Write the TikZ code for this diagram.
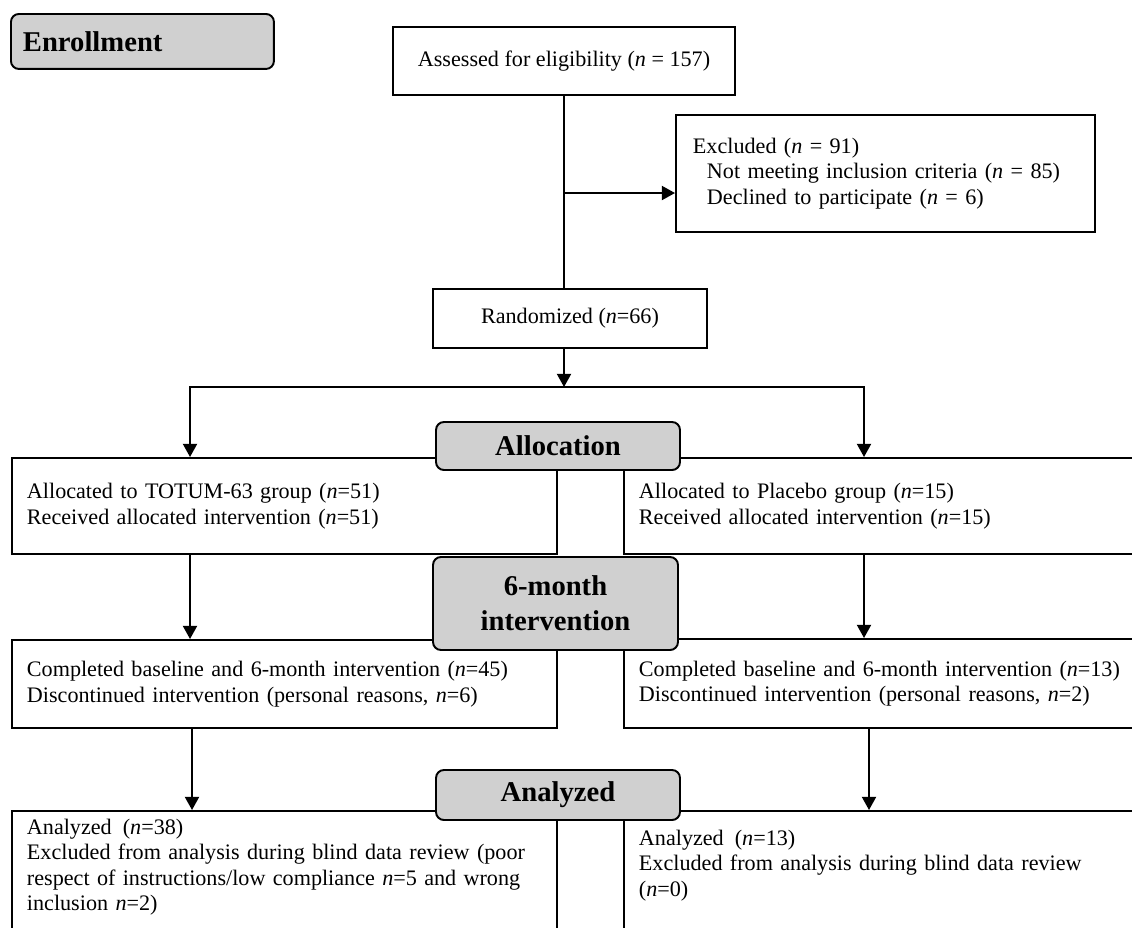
\documentclass[tikz,border=0pt]{standalone}
\usepackage{fontspec}
\setmainfont{Liberation Serif}
\usepackage{xcolor}
\usetikzlibrary{arrows.meta,positioning}
\definecolor{stagegray}{HTML}{D0D0D0}
\newcommand{\nval}{\textit{n}}

\begin{document}
\begin{tikzpicture}[x=0.02cm, y=-0.02cm,
  >={Triangle[length=7.5pt,width=8pt]},
  box/.style={draw, line width=1.1pt, fill=white, inner sep=0pt,
    font=\fontsize{12.6}{14.5}\selectfont},
  leftbox/.style={box, anchor=north west, align=left, inner xsep=0.3cm,
    minimum width=10.9cm, text width=10.3cm},
  stage/.style={draw, line width=1.1pt, fill=stagegray, rounded corners=4.5pt,
    align=center, font=\bfseries\fontsize{16.3}{19.8}\selectfont},
  link/.style={line width=1.1pt},
  flow/.style={line width=1.1pt, ->}]
  \useasboundingbox (0,0) rectangle (1132,927);

  % Enrollment
  \node[stage, anchor=north west, minimum width=5.26cm, minimum height=1.1cm,
    text width=4.78cm, align=left, inner xsep=0.24cm] (enroll) at (10,13)
    {Enrollment};
  \node[box, minimum width=6.84cm, minimum height=1.36cm] (assess) at (564,61)
    {Assessed for eligibility (\nval{} = 157)};
  \node[box, anchor=north west, align=left, inner xsep=0.34cm,
    minimum width=8.38cm, minimum height=2.34cm, text width=7.7cm] (excl)
    at (675,114)
    {Excluded (\nval{} = 91)\\
     \hspace*{0.28cm}Not meeting inclusion criteria (\nval{} = 85)\\
     \hspace*{0.28cm}Declined to participate (\nval{} = 6)};
  \node[box, minimum width=5.48cm, minimum height=1.18cm] (rand) at (570,318.5)
    {Randomized (\nval=66)};

  % Two arms
  \node[leftbox, minimum height=1.92cm] (allocL) at (11,457)
    {Allocated to TOTUM-63 group (\nval=51)\\
     Received allocated intervention (\nval=51)};
  \node[leftbox, minimum height=1.92cm] (allocR) at (623,457)
    {Allocated to Placebo group (\nval=15)\\
     Received allocated intervention (\nval=15)};
  \node[leftbox, minimum height=1.76cm] (doneL) at (11,639)
    {Completed baseline and 6-month intervention (\nval=45)\\
     Discontinued intervention (personal reasons, \nval=6)};
  \node[leftbox, minimum height=1.78cm] (doneR) at (623,638)
    {Completed baseline and 6-month intervention (\nval=13)\\
     Discontinued intervention (personal reasons, \nval=2)};
  \node[leftbox, inner ysep=0.16cm, text depth=3cm] (anaL) at (11,810)
    {Analyzed\enskip(\nval=38)\\
     Excluded from analysis during blind data review (poor\\
     respect of instructions/low compliance \nval=5 and wrong\\
     inclusion \nval=2)};
  \node[leftbox, inner ysep=0.38cm, text depth=3cm] (anaR) at (623,810)
    {Analyzed\enskip(\nval=13)\\
     Excluded from analysis during blind data review\\
     (\nval=0)};

  % Connectors
  \coordinate (branch) at (564,193);
  \coordinate (split) at (564,387);
  \coordinate (splitL) at (190,387);
  \coordinate (splitR) at (864,387);
  \coordinate (downL) at (192,0);
  \coordinate (downR) at (869,0);

  \draw[link] (assess.south) -- (assess.south |- rand.north);
  \draw[flow] (branch) -- (branch -| excl.west);
  \draw[flow] (split |- rand.south) -- (split);
  \draw[flow] (split) -| (splitL |- allocL.north);
  \draw[flow] (split) -| (splitR |- allocR.north);
  \draw[flow] (splitL |- allocL.south) -- (splitL |- doneL.north);
  \draw[flow] (splitR |- allocR.south) -- (splitR |- doneR.north);
  \draw[flow] (downL |- doneL.south) -- (downL |- anaL.north);
  \draw[flow] (downR |- doneR.south) -- (downR |- anaR.north);

  % Stage labels on top
  \node[stage, minimum width=4.88cm, minimum height=0.96cm] (allocate)
    at (558,446) {Allocation};
  \node[stage, minimum width=4.9cm, minimum height=1.86cm] (sixmonth)
    at (555.5,603.5) {6-month\\intervention};
  \node[stage, minimum width=4.88cm, minimum height=1.0cm] (analyze)
    at (558,795) {Analyzed};
\end{tikzpicture}
\end{document}
